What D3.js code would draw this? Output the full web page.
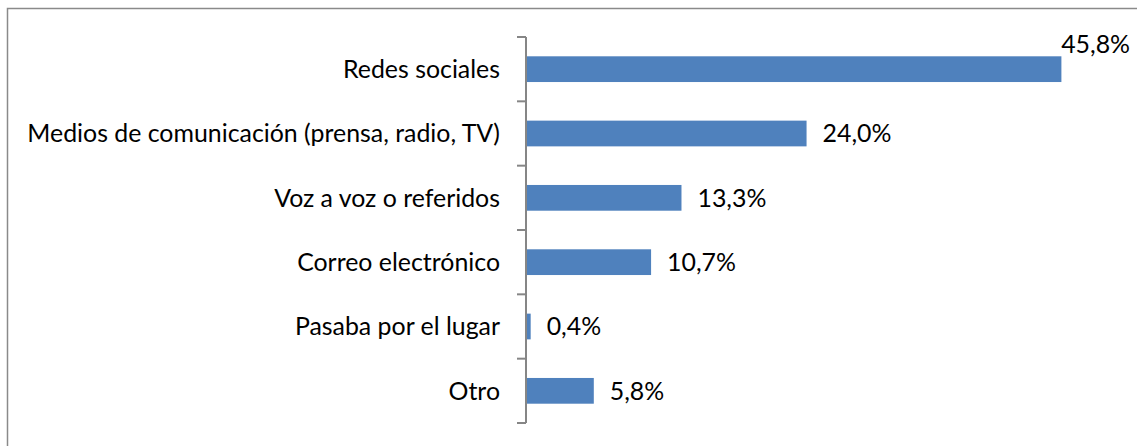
<!DOCTYPE html>
<html>
<head>
<meta charset="utf-8">
<script src="https://cdn.jsdelivr.net/npm/d3@7"></script>
<style>
  html, body { margin: 0; padding: 0; background: #fff; }
  svg { display: block; }
</style>
</head>
<body>
<div id="chart"></div>
<script>
// categories and values (percent)
var categories = ["Redes sociales", "Medios de comunicación (prensa, radio, TV)", "Voz a voz o referidos",
                  "Correo electrónico", "Pasaba por el lugar", "Otro"];
var values = [45.8, 24.0, 13.3, 10.7, 0.4, 5.8];
var valueLabels = ["45,8%", "24,0%", "13,3%", "10,7%", "0,4%", "5,8%"];

var W = 1137, H = 446;
var fontFam = "Lato, 'Open Sans', sans-serif";

var svg = d3.select("#chart").append("svg")
    .attr("width", W).attr("height", H);

// chart border (only top/left visible)
svg.append("path")
    .attr("d", "M7.5," + H + "V8.5H" + W)
    .attr("fill", "none")
    .attr("stroke", "#8a8a8a")
    .attr("stroke-width", 1.5);

var x = d3.scaleLinear().domain([0, 50]).range([526, 1110.5]);
var y = d3.scaleBand().domain(categories).range([37, 423]).padding(0);
var barH = y.bandwidth() * 0.4;

// bars
svg.append("g").selectAll("rect")
    .data(values)
    .enter().append("rect")
      .attr("x", x(0))
      .attr("y", (d, i) => y(categories[i]) + (y.bandwidth() - barH) / 2)
      .attr("width", d => x(d) - x(0))
      .attr("height", barH)
      .attr("fill", "#4f81bd");

// axis line + ticks at band boundaries
var ax = svg.append("g").attr("stroke", "#868686").attr("stroke-width", 2);
ax.append("line")
    .attr("x1", x(0)).attr("x2", x(0))
    .attr("y1", y.range()[0]).attr("y2", y.range()[1]);
var bounds = categories.map(c => y(c)).concat([y.range()[1]]);
ax.selectAll(".tk").data(bounds).enter().append("line")
    .attr("class", "tk")
    .attr("x1", x(0) - 9).attr("x2", x(0))
    .attr("y1", d => d).attr("y2", d => d);

// category labels
var cl = svg.append("g").selectAll("text")
    .data(categories)
    .enter().append("text")
      .attr("x", 500)
      .attr("y", d => y(d) + y.bandwidth() / 2)
      .attr("dy", "0.35em")
      .attr("text-anchor", "end")
      .style("font-family", fontFam)
      .style("font-size", "22px")
      .style("fill", "#000")
      .text(d => d);

// fit font size so the longest label is ~473px wide
var longest = cl.filter((d, i) => i === 1).node().getComputedTextLength();
var fs = 22 * 473 / longest;
cl.style("font-size", fs + "px");

// value labels
svg.append("g").selectAll("text")
    .data(values)
    .enter().append("text")
      .style("font-family", fontFam)
      .style("font-size", fs + "px")
      .style("fill", "#000")
      .attr("dy", "0.35em")
      .text((d, i) => valueLabels[i])
      .each(function(d, i) {
        var t = d3.select(this);
        var w = this.getComputedTextLength();
        var cy = y(categories[i]) + y.bandwidth() / 2;
        var lx = x(d) + 16;
        if (lx + w > W - 6) {
          // no room at the end: sit above the bar, right aligned
          t.attr("x", W - 7).attr("text-anchor", "end")
           .attr("y", cy - barH / 2 - 12);
        } else {
          t.attr("x", lx).attr("y", cy);
        }
      });
</script>
</body>
</html>
